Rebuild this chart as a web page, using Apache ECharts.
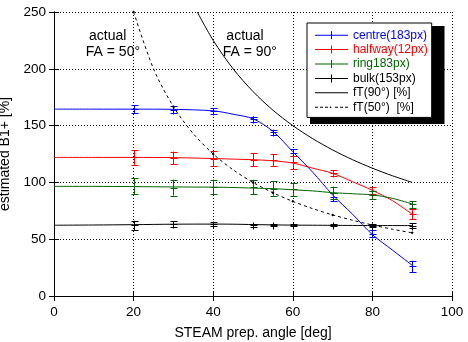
<!DOCTYPE html>
<html>
<head>
<meta charset="utf-8">
<script src="https://cdn.jsdelivr.net/npm/echarts@6/dist/echarts.min.js"></script>
<style>
  html, body { margin: 0; padding: 0; background: #fff; }
  #chart { width: 468px; height: 342px; }
</style>
</head>
<body>
<div id="chart"></div>
<script>
// measured points: [angle, value, error]
const angles = [20, 30, 40, 50, 55, 60, 70, 80, 90];
const centreVals = [164.5, 164, 163, 155.5, 144, 126, 87.5, 55, 26];
const centreErr  = [3.5, 3, 2.5, 2.5, 2, 3, 3.5, 3.5, 5];
const halfwayVals = [122, 121.5, 121, 120, 119.7, 117.7, 108, 92.7, 72.2];
const halfwayErr  = [6.5, 5.6, 7, 5.6, 5.3, 5.5, 2.6, 3, 4.5];
const ringVals = [96.5, 95.4, 96, 96, 94.6, 93.9, 90.7, 88.9, 80.7];
const ringErr  = [7, 7, 6.5, 6.3, 6.3, 6, 5.6, 3.7, 3];
const bulkVals = [62.2, 63.4, 63.4, 62.2, 62.2, 62.2, 62.2, 62, 62];
const bulkErr  = [4, 2.5, 1.5, 1.5, 1, 1, 1, 1, 2];

// fitted curves
const fitAngles = [0, 10, 20, 30, 40, 45, 50, 55, 60, 65, 70, 75, 80, 85, 90];
const centreFit  = [164.5, 164.5, 164.5, 164.3, 163, 160, 156, 145, 127, 109, 89, 72, 54, 40.5, 27];
const halfwayFit = [122, 122, 122, 121.8, 121, 120.5, 120, 119, 117, 112.5, 108, 100.6, 93, 84, 72];
const ringFit    = [96.5, 96.5, 96.3, 96, 95.8, 95.5, 95, 94.5, 93.5, 92.5, 91, 90, 89, 86, 81];
const bulkFit    = [62.3, 62.5, 62.8, 63.2, 63.3, 63.2, 62.9, 62.6, 62.4, 62.3, 62.2, 62.1, 62, 62, 62];

// theoretical curves
const ft90Angles = [36, 40, 45, 50, 55, 60, 65, 70, 75, 80, 85, 90];
const ft90Vals   = [250, 225, 200, 180, 163.6, 150, 138.5, 128.6, 120, 112.5, 105.9, 100];
const ft50Angles = [20, 25, 30, 35, 40, 45, 50, 55, 60, 65, 70, 75, 80, 85, 90];
const ft50Vals   = [250, 200, 166.7, 142.9, 125, 111.1, 100, 90.9, 83.3, 76.9, 71.4, 66.7, 62.5, 58.8, 55.6];

const xTicks = [0, 20, 40, 60, 80, 100];
const yTicks = [0, 50, 100, 150, 200, 250];

const legendNames = ['centre(183px)', 'halfway(12px)', 'ring183px)', 'bulk(153px)', 'fT(90°) [%]', 'fT(50°)  [%]'];

const notes = [
    { x: 13.5, y: 229, text: 'actual' },
    { x: 14.8, y: 215, text: 'FA = 50°' },
    { x: 48.0, y: 229, text: 'actual' },
    { x: 49.2, y: 215, text: 'FA = 90°' },
];

const FONT = '"Liberation Sans", Arial, sans-serif';
const BLUE = '#0000ff', RED = '#ff0000', GREEN = '#006400', BLACK = '#000000';

// legend box
const LEG_LEFT = 307, LEG_TOP = 23, LEG_ROW = 14.4;
const SHADOW = { x: 310, y: 26, width: 134.5, height: 98 };

const chart = echarts.init(document.getElementById('chart'));

function pairs(xs, ys) {
    return xs.map((x, i) => [x, ys[i]]);
}
function triples(vals, errs) {
    return angles.map((a, i) => [a, vals[i], errs[i]]);
}

function errorBars(color) {
    return function (params, api) {
        const x = api.value(0), y = api.value(1), e = api.value(2);
        const c = api.coord([x, y]);
        const lo = api.coord([x, y - e]);
        const hi = api.coord([x, y + e]);
        const cap = 3, m = 3;
        const cx = Math.round(c[0]) + 0.5, cy = Math.round(c[1]) + 0.5;
        const style = { stroke: color, lineWidth: 1 };
        return {
            type: 'group',
            children: [
                { type: 'line', shape: { x1: cx, y1: lo[1], x2: cx, y2: hi[1] }, style },
                { type: 'line', shape: { x1: cx - cap, y1: Math.round(lo[1]) + 0.5, x2: cx + cap + 1, y2: Math.round(lo[1]) + 0.5 }, style },
                { type: 'line', shape: { x1: cx - cap, y1: Math.round(hi[1]) + 0.5, x2: cx + cap + 1, y2: Math.round(hi[1]) + 0.5 }, style },
                { type: 'line', shape: { x1: cx - m, y1: cy, x2: cx + m + 1, y2: cy }, style },
                { type: 'line', shape: { x1: cx, y1: cy - m, x2: cx, y2: cy + m + 1 }, style },
            ],
        };
    };
}

// error bars get their own names so the legend takes its colour from the fit lines
function dataSeries(name, color, vals, errs) {
    return {
        name: name + ' data',
        type: 'custom',
        renderItem: errorBars(color),
        itemStyle: { color: color },
        data: triples(vals, errs),
        z: 3,
    };
}
function fitSeries(name, color, xs, ys) {
    return {
        name: name,
        type: 'line',
        smooth: 0.3,
        showSymbol: false,
        symbol: 'none',
        lineStyle: { color: color, width: 1 },
        itemStyle: { color: color },
        data: pairs(xs, ys),
        z: 2,
    };
}

// legend icons (33 x 8 boxes)
const crossIcon = 'path://M0,3.5h33v1h-33z M16,0h1v8h-1z';
const solidIcon = 'path://M0,3.5h33v1h-33z M0,0h0.01v8h-0.01z';
const dashIcon = 'path://M0,3.5h3v1h-3z M5,3.5h3v1h-3z M10,3.5h3v1h-3z M15.5,3 l1,1 l-1,1 l-1,-1z M20,3.5h3v1h-3z M25,3.5h3v1h-3z M30,3.5h3v1h-3z M0,0h0.01v8h-0.01z';
const legendIcons = [crossIcon, crossIcon, crossIcon, crossIcon, solidIcon, dashIcon];
const legendColors = [BLUE, RED, GREEN, BLACK, BLACK, BLACK];

const markAngles = angles;

const option = {
    animation: false,
    backgroundColor: '#fff',
    textStyle: { fontFamily: FONT },
    grid: { left: 54, right: 16, top: 12, bottom: 46, show: false, containLabel: false, outerBoundsMode: 'none' },
    legend: {
        orient: 'vertical',
        left: LEG_LEFT,
        top: LEG_TOP,
        padding: [5, 4, 3, 8],
        itemGap: 0,
        itemWidth: 33,
        itemHeight: 8,
        backgroundColor: '#fff',
        borderColor: '#000',
        borderWidth: 1,
        selectedMode: false,
        z: 10,
        textStyle: { fontFamily: FONT, fontSize: 12, lineHeight: LEG_ROW },
        data: legendNames.map((n, i) => ({ name: n, icon: legendIcons[i], textStyle: { color: legendColors[i] } })),
    },
    xAxis: [
        {
            type: 'value', min: xTicks[0], max: xTicks[xTicks.length - 1], interval: 20,
            name: 'STEAM prep. angle [deg]', nameLocation: 'middle', nameGap: 30,
            nameTextStyle: { color: '#000', fontSize: 14, fontFamily: FONT },
            axisLine: { show: true, lineStyle: { color: '#000', width: 1 } },
            axisTick: { show: true, inside: true, length: 5, lineStyle: { color: '#000' } },
            axisLabel: { color: '#000', fontSize: 13.5, fontFamily: FONT, margin: 9 },
            splitLine: { show: true, lineStyle: { color: '#000', type: [1, 2], width: 1 } },
        },
        {
            type: 'value', position: 'top', min: xTicks[0], max: xTicks[xTicks.length - 1], interval: 20,
            axisLine: { show: true, lineStyle: { color: '#000', width: 1 } },
            axisTick: { show: true, inside: true, length: 5, lineStyle: { color: '#000' } },
            axisLabel: { show: false },
            splitLine: { show: false },
        },
    ],
    yAxis: [
        {
            type: 'value', min: yTicks[0], max: yTicks[yTicks.length - 1], interval: 50,
            name: 'estimated B1+ [%]', nameLocation: 'middle', nameGap: 40,
            nameTextStyle: { color: '#000', fontSize: 14, fontFamily: FONT },
            axisLine: { show: true, lineStyle: { color: '#000', width: 1 } },
            axisTick: { show: true, inside: true, length: 5, lineStyle: { color: '#000' } },
            axisLabel: { color: '#000', fontSize: 13.5, fontFamily: FONT, margin: 8 },
            splitLine: { show: true, lineStyle: { color: '#000', type: [1, 2], width: 1 } },
        },
        {
            type: 'value', position: 'right', min: yTicks[0], max: yTicks[yTicks.length - 1], interval: 50,
            axisLine: { show: true, lineStyle: { color: '#000', width: 1 } },
            axisTick: { show: true, inside: true, length: 5, lineStyle: { color: '#000' } },
            axisLabel: { show: false },
            splitLine: { show: false },
        },
    ],
    series: [
        fitSeries(legendNames[0], BLUE, fitAngles, centreFit),
        fitSeries(legendNames[1], RED, fitAngles, halfwayFit),
        fitSeries(legendNames[2], GREEN, fitAngles, ringFit),
        fitSeries(legendNames[3], BLACK, fitAngles, bulkFit),
        dataSeries(legendNames[0], BLUE, centreVals, centreErr),
        dataSeries(legendNames[1], RED, halfwayVals, halfwayErr),
        dataSeries(legendNames[2], GREEN, ringVals, ringErr),
        dataSeries(legendNames[3], BLACK, bulkVals, bulkErr),
        {
            name: legendNames[4],
            type: 'line',
            smooth: 0.3,
            showSymbol: false,
            symbol: 'none',
            lineStyle: { color: BLACK, width: 1 },
            itemStyle: { color: BLACK },
            data: pairs(ft90Angles, ft90Vals),
        },
        {
            name: legendNames[5],
            type: 'line',
            smooth: 0.3,
            symbol: (v) => (markAngles.includes(v[0]) ? 'diamond' : 'none'),
            symbolSize: 3,
            lineStyle: { color: BLACK, width: 1, type: [3, 3] },
            itemStyle: { color: BLACK },
            data: pairs(ft50Angles, ft50Vals),
        },
    ],
};

chart.setOption(option);

// text annotations placed in data coordinates, plus the legend's drop shadow
const graphics = notes.map((n) => {
    const p = chart.convertToPixel({ xAxisIndex: 0, yAxisIndex: 0 }, [n.x, n.y]);
    return {
        type: 'text',
        x: p[0],
        y: p[1],
        style: {
            text: n.text,
            fill: '#000',
            font: '14px ' + FONT,
            textAlign: 'center',
            textVerticalAlign: 'middle',
        },
        z: 10,
    };
});
graphics.push({
    type: 'rect',
    shape: SHADOW,
    style: { fill: '#000' },
    z: 9,
});
chart.setOption({ graphic: graphics });
</script>
</body>
</html>
